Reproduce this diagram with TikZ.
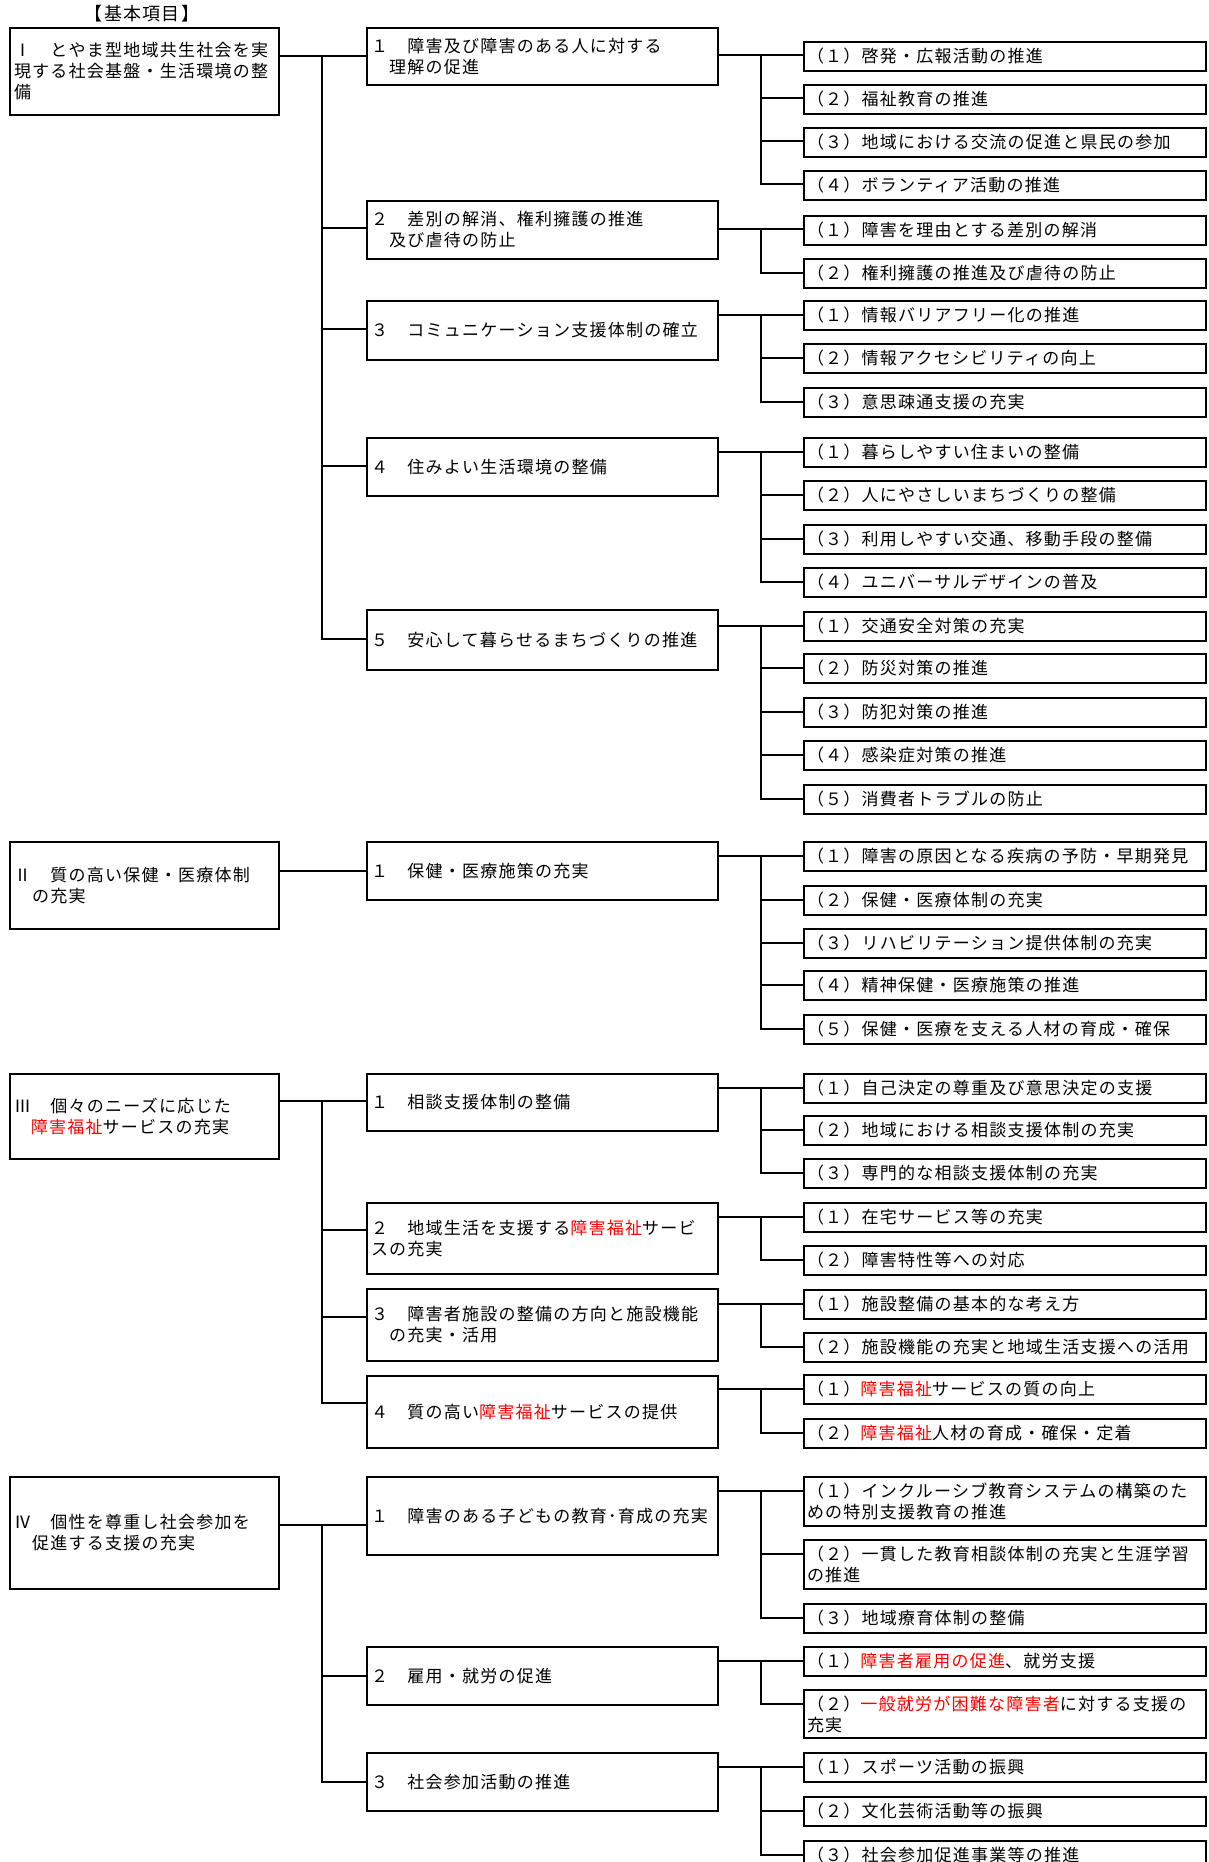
\documentclass[tikz,border=0pt]{standalone}
\usepackage{fontspec}
\setmainfont{Noto Sans CJK JP}[LetterSpace=7.3]
\definecolor{jred}{RGB}{255,0,0}
\newcommand\rd[1]{\textcolor{jred}{#1}}
\tikzset{
  box/.style={draw, line width=2pt, rectangle, anchor=north west, inner xsep=4pt, inner ysep=0pt,
    align=left, font=\fontsize{17pt}{21pt}\selectfont},
  lone/.style={box, text width=261pt},
  ltwo/.style={box, text width=343pt},
  lthree/.style={box, inner xsep=3pt, text width=396pt},
  conn/.style={line width=2pt},
}
% level-1 box: [height]{name}{y}{text}
\newcommand\lo[4][87]{\node[lone, minimum height=#1pt] (#2) at (9,#3) {#4};}
% level-2 box: [height]{name}{y}{in-offset}{text}
\newcommand\lv[5][58]{\node[ltwo, minimum height=#1pt] (#2) at (366,#3) {#5};
  \coordinate (#2-in) at ([yshift=-#4pt]#2.north west);}
% child box: [height]{name}{y}{text}
\newcommand\ch[4][29]{\node[lthree, minimum height=#1pt] (#2) at (803,#3) {#4};
  \coordinate (#2-in) at ([yshift=-14.5pt]#2.north west);}
% right fan: parent, other kids
\newcommand\fan[2]{\draw[conn] (#1.east |- #1a-in) -- (#1a-in);
  \foreach \k in {#2} {\draw[conn] (rx |- #1a-in) |- (#1\k-in);}}
% left fan: level-1 parent, first level-2, other level-2
\newcommand\lfan[3]{\draw[conn] (#1.east |- #2-in) -- (#2-in);
  \foreach \k in {#3} {\draw[conn] (lx |- #2-in) |- (\k-in);}}
\begin{document}
\begin{tikzpicture}[x=1pt,y=-1pt]
\useasboundingbox (0,0) rectangle (1208,1862);
\clip (0,0) rectangle (1208,1862);
\coordinate (lx) at (322,0);
\coordinate (rx) at (761,0);

\node[font=\fontsize{18pt}{20pt}\selectfont] (title) at (142,14) {【基本項目】};

% ---------- level 1
\lo{A}{27}{Ⅰ　とやま型地域共生社会を実\\現する社会基盤・生活環境の整\\備}
\lo{B}{841}{Ⅱ　質の高い保健・医療体制\\　の充実}
\lo[85]{C}{1073}{Ⅲ　個々のニーズに応じた\\　\rd{障害福祉}サービスの充実}
\lo[112]{D}{1476}{Ⅳ　個性を尊重し社会参加を\\　促進する支援の充実}

% ---------- level 2
\lv[57]{A1}{27}{29}{１　障害及び障害のある人に対する\\　理解の促進}
\lv[58]{A2}{200}{28}{２　差別の解消、権利擁護の推進\\　及び虐待の防止}
\lv[59]{A3}{300}{29}{３　コミュニケーション支援体制の確立}
\lv[58]{A4}{437}{29}{４　住みよい生活環境の整備}
\lv[60]{A5}{609}{30}{５　安心して暮らせるまちづくりの推進}
\lv[58]{B1}{841}{30}{１　保健・医療施策の充実}
\lv[57]{C1}{1073}{28}{１　相談支援体制の整備}
\lv[71]{C2}{1202}{28}{２　地域生活を支援する\rd{障害福祉}サービ\\スの充実}
\lv[72]{C3}{1288}{29}{３　障害者施設の整備の方向と施設機能\\　の充実・活用}
\lv[72]{C4}{1375}{28}{４　質の高い\rd{障害福祉}サービスの提供}
\lv[78]{D1}{1476}{49}{１　障害のある子どもの教育･育成の充実}
\lv[58]{D2}{1646}{30}{２　雇用・就労の促進}
\lv[58]{D3}{1752}{30}{３　社会参加活動の推進}

% ---------- level 3
\ch{A1a}{41}{（１）啓発・広報活動の推進}
\ch{A1b}{84}{（２）福祉教育の推進}
\ch{A1c}{127}{（３）地域における交流の促進と県民の参加}
\ch{A1d}{170}{（４）ボランティア活動の推進}
\ch{A2a}{215}{（１）障害を理由とする差別の解消}
\ch{A2b}{258}{（２）権利擁護の推進及び虐待の防止}
\ch{A3a}{300}{（１）情報バリアフリー化の推進}
\ch{A3b}{343}{（２）情報アクセシビリティの向上}
\ch{A3c}{387}{（３）意思疎通支援の充実}
\ch{A4a}{437}{（１）暮らしやすい住まいの整備}
\ch{A4b}{480}{（２）人にやさしいまちづくりの整備}
\ch{A4c}{524}{（３）利用しやすい交通、移動手段の整備}
\ch{A4d}{567}{（４）ユニバーサルデザインの普及}
\ch{A5a}{611}{（１）交通安全対策の充実}
\ch{A5b}{653}{（２）防災対策の推進}
\ch{A5c}{697}{（３）防犯対策の推進}
\ch{A5d}{740}{（４）感染症対策の推進}
\ch{A5e}{784}{（５）消費者トラブルの防止}
\ch{B1a}{841}{（１）障害の原因となる疾病の予防・早期発見}
\ch{B1b}{885}{（２）保健・医療体制の充実}
\ch{B1c}{928}{（３）リハビリテーション提供体制の充実}
\ch{B1d}{970}{（４）精神保健・医療施策の推進}
\ch{B1e}{1014}{（５）保健・医療を支える人材の育成・確保}
\ch{C1a}{1073}{（１）自己決定の尊重及び意思決定の支援}
\ch{C1b}{1115}{（２）地域における相談支援体制の充実}
\ch{C1c}{1158}{（３）専門的な相談支援体制の充実}
\ch{C2a}{1202}{（１）在宅サービス等の充実}
\ch{C2b}{1245}{（２）障害特性等への対応}
\ch{C3a}{1289}{（１）施設整備の基本的な考え方}
\ch{C3b}{1332}{（２）施設機能の充実と地域生活支援への活用}
\ch{C4a}{1374}{（１）\rd{障害福祉}サービスの質の向上}
\ch{C4b}{1418}{（２）\rd{障害福祉}人材の育成・確保・定着}
\ch[49]{D1a}{1476}{（１）インクルーシブ教育システムの構築のた\\めの特別支援教育の推進}
\ch[49]{D1b}{1539}{（２）一貫した教育相談体制の充実と生涯学習\\の推進}
\ch{D1c}{1603}{（３）地域療育体制の整備}
\ch{D2a}{1646}{（１）\rd{障害者雇用の促進}、就労支援}
\ch[48]{D2b}{1689}{（２）\rd{一般就労が困難な障害者}に対する支援の\\充実}
\ch{D3a}{1752}{（１）スポーツ活動の振興}
\ch{D3b}{1796}{（２）文化芸術活動等の振興}
\ch{D3c}{1840}{（３）社会参加促進事業等の推進}

% ---------- connectors, level 1 -> level 2
\lfan{A}{A1}{A2,A3,A4,A5}
\draw[conn] (B.east |- B1-in) -- (B1-in);
\lfan{C}{C1}{C2,C3,C4}
\lfan{D}{D1}{D2,D3}

% ---------- connectors, level 2 -> level 3
\fan{A1}{b,c,d}
\fan{A2}{b}
\fan{A3}{b,c}
\fan{A4}{b,c,d}
\fan{A5}{b,c,d,e}
\fan{B1}{b,c,d,e}
\fan{C1}{b,c}
\fan{C2}{b}
\fan{C3}{b}
\fan{C4}{b}
\fan{D1}{b,c}
\fan{D2}{b}
\fan{D3}{b,c}
\end{tikzpicture}
\end{document}
